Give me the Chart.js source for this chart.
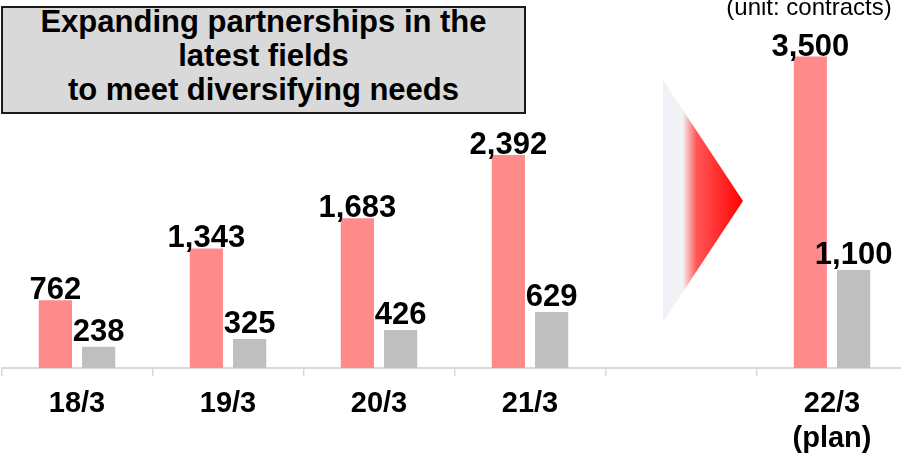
<!DOCTYPE html>
<html>
<head>
<meta charset="utf-8">
<title>Partnership contracts</title>
<script src="https://cdn.jsdelivr.net/npm/chart.js@4/dist/chart.umd.min.js"></script>
<style>
    html, body {
        margin: 0;
        padding: 0;
        background: #fff;
        overflow: hidden;
    }
    #wrap {
        position: relative;
        width: 909px;
        height: 453px;
    }
    .headline {
        position: absolute;
        left: 1px;
        top: 6px;
        width: 525px;
        height: 108px;
        box-sizing: border-box;
        background: #d9d9d9;
        border: 2px solid #1a1a1a;
        overflow: hidden;
    }
    .headline div {
        margin-top: -3px;
        font: bold 31px "Liberation Sans", Arial, sans-serif;
        line-height: 34px;
        text-align: center;
        color: #000;
    }
    .unit {
        position: absolute;
        left: 700px;
        top: -5px;
        width: 218px;
        text-align: center;
        font: 24px "Liberation Sans", Arial, sans-serif;
        line-height: 24px;
        color: #000;
    }
</style>
</head>
<body>
<div id="wrap">
    <canvas id="contractsChart"></canvas>
    <div class="headline"><div>Expanding partnerships in the<br>latest fields<br>to meet diversifying needs</div></div>
    <div class="unit">(unit: contracts)</div>
</div>

<script>
// ===== Data =====
const categories = ['18/3', '19/3', '20/3', '21/3', '', ['22/3', '(plan)']];
const contractsRed = [762, 1343, 1683, 2392, null, 3500];
const contractsGray = [238, 325, 426, 629, null, 1100];

const FONT_FAMILY = '"Liberation Sans", Arial, sans-serif';

// Number labels above each bar
const valueLabels = {
    id: 'valueLabels',
    afterDatasetsDraw(chart) {
        const ctx = chart.ctx;
        ctx.save();
        ctx.font = `bold 31px ${FONT_FAMILY}`;
        ctx.fillStyle = '#000';
        ctx.textAlign = 'center';
        ctx.textBaseline = 'alphabetic';
        chart.data.datasets.forEach((ds, i) => {
            const meta = chart.getDatasetMeta(i);
            meta.data.forEach((bar, j) => {
                const v = ds.data[j];
                if (v == null) return;
                ctx.fillText(v.toLocaleString('en-US'), bar.x, bar.y + ds.labelLift);
            });
        });
        ctx.restore();
    }
};

// Faded red arrowhead in the empty slot before the plan year
const planArrow = {
    id: 'planArrow',
    beforeDatasetsDraw(chart) {
        const ctx = chart.ctx;
        const xs = chart.scales.x;
        const left = xs.getPixelForValue(4) - 18;
        const tip = left + 80;
        const top = 80, bottom = 322, mid = (top + bottom) / 2;

        const grad = ctx.createLinearGradient(left, 0, tip, 0);
        grad.addColorStop(0, '#eef2f8');
        grad.addColorStop(0.25, '#f3f3f4');
        grad.addColorStop(0.29, '#f7caca');
        grad.addColorStop(0.42, '#ff5656');
        grad.addColorStop(1, '#ff0000');

        ctx.save();
        ctx.beginPath();
        ctx.moveTo(left, top);
        ctx.lineTo(tip, mid);
        ctx.lineTo(left, bottom);
        ctx.closePath();
        ctx.fillStyle = grad;
        ctx.fill();
        ctx.restore();
    }
};

new Chart(document.getElementById('contractsChart'), {
    type: 'bar',
    data: {
        labels: categories,
        datasets: [
            {
                label: 'Series 1',
                data: contractsRed,
                backgroundColor: '#ff8a8a',
                labelLift: -1,
                categoryPercentage: 0.573,
                barPercentage: 0.767
            },
            {
                label: 'Series 2',
                data: contractsGray,
                backgroundColor: '#bfbfbf',
                labelLift: -6,
                categoryPercentage: 0.573,
                barPercentage: 0.767
            }
        ]
    },
    options: {
        responsive: true,
        maintainAspectRatio: false,
        animation: false,
        layout: {
            padding: { top: 12, left: 1.5, right: 1.5, bottom: 0 }
        },
        plugins: {
            legend: { display: false },
            tooltip: { enabled: false }
        },
        scales: {
            x: {
                grid: {
                    drawOnChartArea: false,
                    drawTicks: true,
                    tickLength: 8,
                    color: '#d9d9d9',
                    lineWidth: 1.5,
                    offset: true
                },
                border: {
                    display: true,
                    color: '#d9d9d9',
                    width: 2
                },
                ticks: {
                    color: '#000',
                    padding: 11,
                    autoSkip: false,
                    maxRotation: 0,
                    font: { family: FONT_FAMILY, size: 29, weight: 'bold' }
                },
                afterFit(scale) {
                    scale.height = 85;
                }
            },
            y: {
                display: false,
                min: 0,
                max: 4000
            }
        }
    },
    plugins: [planArrow, valueLabels]
});
</script>
</body>
</html>
